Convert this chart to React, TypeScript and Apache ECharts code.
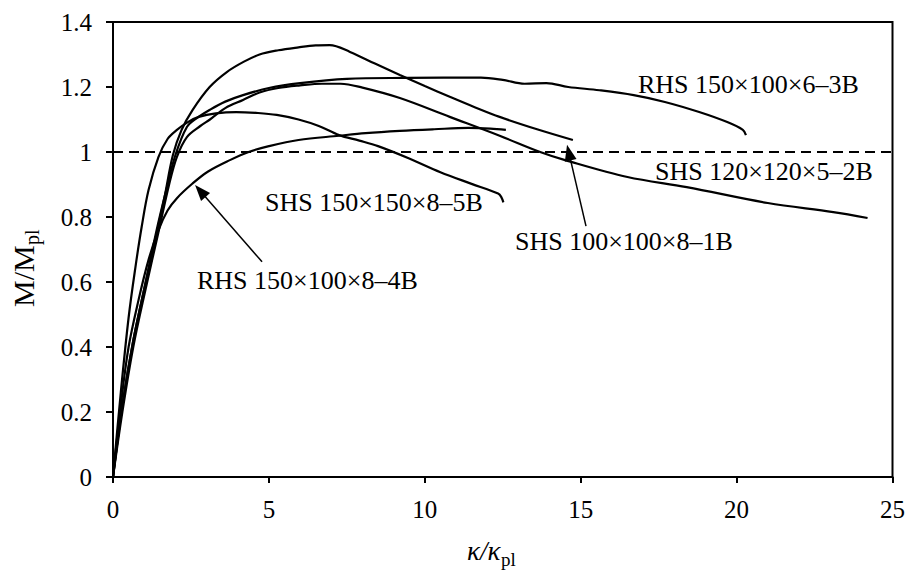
import React, { useEffect, useRef } from "react";
import * as echarts from "echarts";

// ---- data ----
const xTicks = [0, 5, 10, 15, 20, 25];
const yTicks = [0, 0.2, 0.4, 0.6, 0.8, 1, 1.2, 1.4];

const shs100_1B: number[][] = [
  [0, 0], [0.3, 0.22], [0.65, 0.42], [1.05, 0.6], [1.4, 0.75], [1.65, 0.86], [1.92, 0.99],
  [2.2, 1.068], [2.55, 1.129], [3.1, 1.2], [3.65, 1.246], [4.2, 1.278], [4.7, 1.3],
  [5.3, 1.313], [5.95, 1.322], [6.5, 1.328], [6.95, 1.329], [7.6, 1.308], [8.4, 1.272],
  [9.2, 1.237], [10.0, 1.203], [10.8, 1.17], [11.6, 1.138], [12.4, 1.108], [13.6, 1.07],
  [14.75, 1.037],
];
const shs120_2B: number[][] = [
  [0, 0], [0.3, 0.2], [0.65, 0.4], [1.05, 0.58], [1.45, 0.75], [1.8, 0.9], [2.05, 0.985],
  [2.37, 1.046], [2.8, 1.08], [3.11, 1.1], [3.6, 1.135], [4.17, 1.16], [4.7, 1.183],
  [5.3, 1.197], [6.0, 1.205], [6.7, 1.21], [7.3, 1.21], [8.0, 1.198], [9.2, 1.166],
  [10.8, 1.108], [12.4, 1.05], [13.7, 1.0], [14.5, 0.975], [16.5, 0.923], [18.4, 0.892],
  [21.0, 0.843], [23.1, 0.815], [24.2, 0.797],
];
const rhs150_3B: number[][] = [
  [0, 0], [0.3, 0.22], [0.65, 0.42], [1.05, 0.6], [1.4, 0.76], [1.7, 0.88], [2.0, 0.99],
  [2.37, 1.077], [2.7, 1.105], [3.11, 1.13], [3.6, 1.155], [4.17, 1.175], [5.0, 1.197],
  [6.0, 1.212], [7.5, 1.225], [9.4, 1.228], [11.8, 1.229], [12.5, 1.222], [13.2, 1.21],
  [13.9, 1.212], [14.6, 1.2], [15.6, 1.19], [16.7, 1.175], [17.7, 1.154], [18.8, 1.123],
  [19.7, 1.092], [20.2, 1.068], [20.3, 1.052],
];
const rhs150_4B: number[][] = [
  [0, 0], [0.25, 0.22], [0.5, 0.4], [0.82, 0.545], [1.14, 0.668], [1.46, 0.76], [1.75, 0.82],
  [2.05, 0.858], [2.55, 0.903], [3.05, 0.94], [3.75, 0.975], [4.35, 1.0], [5.0, 1.018],
  [5.95, 1.037], [7.25, 1.05], [8.1, 1.058], [9.2, 1.065], [10.3, 1.07], [11.4, 1.074],
  [12.1, 1.072], [12.6, 1.068],
];
const shs150_5B: number[][] = [
  [0, 0], [0.25, 0.26], [0.5, 0.49], [0.72, 0.646], [0.92, 0.77], [1.14, 0.883],
  [1.46, 0.985], [1.75, 1.04], [2.05, 1.068], [2.4, 1.092], [2.75, 1.108], [3.3, 1.119],
  [3.95, 1.123], [4.65, 1.12], [5.25, 1.114], [5.95, 1.1], [6.6, 1.08], [7.25, 1.052],
  [7.9, 1.035], [8.5, 1.018], [9.5, 0.98], [10.5, 0.938], [11.5, 0.902], [12.35, 0.872],
  [12.45, 0.862], [12.52, 0.845],
];
const plasticLine: number[][] = [[0, 1], [25, 1]];
const arrow4B: number[][] = [[4.78, 0.662], [2.8, 0.88]];
const arrow1B: number[][] = [[15.17, 0.772], [14.62, 0.998]];

const curveNames = [
  "SHS 100×100×8–1B",
  "SHS 120×120×5–2B",
  "RHS 150×100×6–3B",
  "RHS 150×100×8–4B",
  "SHS 150×150×8–5B",
];
const curves = [shs100_1B, shs120_2B, rhs150_3B, rhs150_4B, shs150_5B];

const FONT = "'Liberation Serif', 'Times New Roman', serif";

export default function App() {
  const ref = useRef<HTMLDivElement>(null);
  useEffect(() => {
    if (!ref.current) return;
    const chart = echarts.init(ref.current, undefined, { renderer: "svg" });
    const curveSeries = curves.map((d, i) => ({
      name: curveNames[i],
      type: "line",
      data: d,
      showSymbol: false,
      smooth: 0.35,
      lineStyle: { color: "#000", width: 2.2 },
      silent: true,
      z: 3,
    }));
    const arrowSeries = (pts: number[][]) => ({
      type: "line",
      data: [],
      silent: true,
      markLine: {
        silent: true,
        symbol: ["none", "triangle"],
        symbolSize: [12, 16],
        label: { show: false },
        lineStyle: { color: "#000", width: 1.5, type: "solid" },
        itemStyle: { color: "#000" },
        emphasis: { disabled: true },
        data: [[{ coord: pts[0] }, { coord: pts[1] }]],
      },
    });
    const ann = (text: string, x: number, y: number) => ({
      type: "text",
      x,
      y,
      silent: true,
      style: {
        text,
        font: `26px ${FONT}`,
        fill: "#000",
        verticalAlign: "middle",
        align: "left",
      },
    });
    chart.setOption({
      animation: false,
      backgroundColor: "#fff",
      grid: {
        left: 113,
        top: 22,
        right: 19.5,
        bottom: 94,
        show: true,
        borderColor: "#000",
        borderWidth: 2,
        containLabel: false,
        outerBoundsMode: "none",
      },
      xAxis: {
        type: "value",
        min: xTicks[0],
        max: xTicks[xTicks.length - 1],
        interval: xTicks[1] - xTicks[0],
        axisLine: { show: true, onZero: false, lineStyle: { color: "#000", width: 2 } },
        axisTick: { show: true, length: 6, lineStyle: { color: "#000", width: 2 } },
        axisLabel: { color: "#000", fontSize: 25, fontFamily: FONT, margin: 20 },
        splitLine: { show: false },
      },
      yAxis: {
        type: "value",
        min: yTicks[0],
        max: yTicks[yTicks.length - 1],
        interval: 0.2,
        axisLine: { show: true, onZero: false, lineStyle: { color: "#000", width: 2 } },
        axisTick: { show: true, length: 7, lineStyle: { color: "#000", width: 2 } },
        axisLabel: { color: "#000", fontSize: 25, fontFamily: FONT, margin: 21 },
        splitLine: { show: false },
      },
      series: [
        ...curveSeries,
        {
          type: "line",
          data: plasticLine,
          showSymbol: false,
          silent: true,
          lineStyle: { color: "#000", width: 2, type: [10, 6] },
          z: 2,
        },
        arrowSeries(arrow4B),
        arrowSeries(arrow1B),
      ],
      graphic: [
        ann("RHS 150×100×6–3B", 638, 84),
        ann("SHS 120×120×5–2B", 655, 171),
        ann("SHS 150×150×8–5B", 265, 202),
        ann("SHS 100×100×8–1B", 515, 241),
        ann("RHS 150×100×8–4B", 197, 280),
        {
          type: "group",
          x: 467,
          y: 560,
          silent: true,
          children: [
            { type: "text", x: 0, y: -9, style: { text: "κ/κ", font: `italic 27px ${FONT}`, fill: "#000", verticalAlign: "middle" } },
            { type: "text", x: 34, y: -1, style: { text: "pl", font: `19px ${FONT}`, fill: "#000", verticalAlign: "middle" } },
          ],
        },
        {
          type: "group",
          x: 33,
          y: 307,
          rotation: Math.PI / 2,
          silent: true,
          children: [
            { type: "text", x: 0, y: -10, style: { text: "M/M", font: `30px ${FONT}`, fill: "#000", verticalAlign: "middle" } },
            { type: "text", x: 62, y: -1, style: { text: "pl", font: `20px ${FONT}`, fill: "#000", verticalAlign: "middle" } },
          ],
        },
      ],
    });
    return () => chart.dispose();
  }, []);
  return <div ref={ref} style={{ width: 912, height: 571, position: "absolute", left: 0, top: 0 }} />;
}
